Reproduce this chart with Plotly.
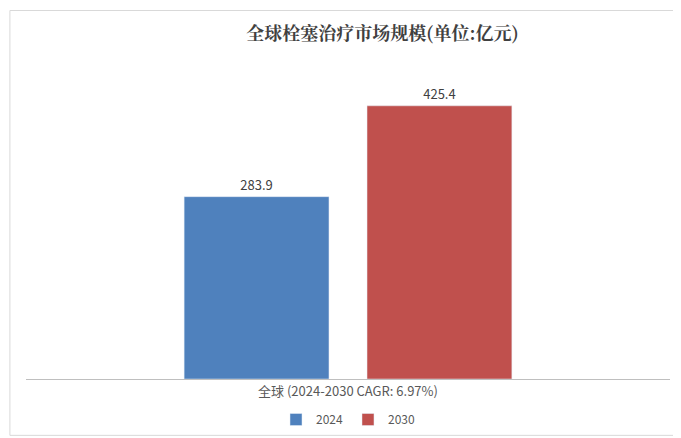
import plotly.graph_objects as go

category = ["全球 (2024-2030 CAGR: 6.97%)"]
years = ["2024", "2030"]
values = [283.9, 425.4]
colors = ["#4F81BD", "#C0504D"]

fig = go.Figure()
for year, val, col in zip(years, values, colors):
    fig.add_trace(go.Bar(
        x=category, y=[val], name=year,
        marker=dict(color=col),
        text=[f"{val:.1f}"], textposition="outside",
        textfont=dict(size=13, color="#404040"),
        cliponaxis=False,
    ))

fig.update_layout(
    width=681, height=438,
    paper_bgcolor="white", plot_bgcolor="white",
    margin=dict(l=18, r=19, t=82, b=58),
    title=dict(text="<b>全球栓塞治疗市场规模(单位:亿元)</b>", x=0.55, xanchor="center",
               y=0.955, font=dict(size=18, color="#404040", family="Noto Serif CJK SC, Noto Sans CJK SC")),
    barmode="group", bargap=0.432, bargroupgap=0.208,
    xaxis=dict(showline=True, linecolor="#BFBFBF", tickfont=dict(size=13, color="#595959"),
               ticks=""),
    yaxis=dict(range=[0, 450], visible=False),
    legend=dict(orientation="h", x=0.5, xanchor="center", y=-0.09, yanchor="top",
                font=dict(size=12, color="#595959"), itemwidth=30, tracegroupgap=0),
    font=dict(family="Noto Sans CJK SC"),
    shapes=[dict(type="rect", xref="paper", yref="paper", x0=-0.025, x1=1.027, y0=-0.195, y1=1.275,
                 line=dict(color="#D9D9D9", width=1))],
)

fig.write_html("out.html")
